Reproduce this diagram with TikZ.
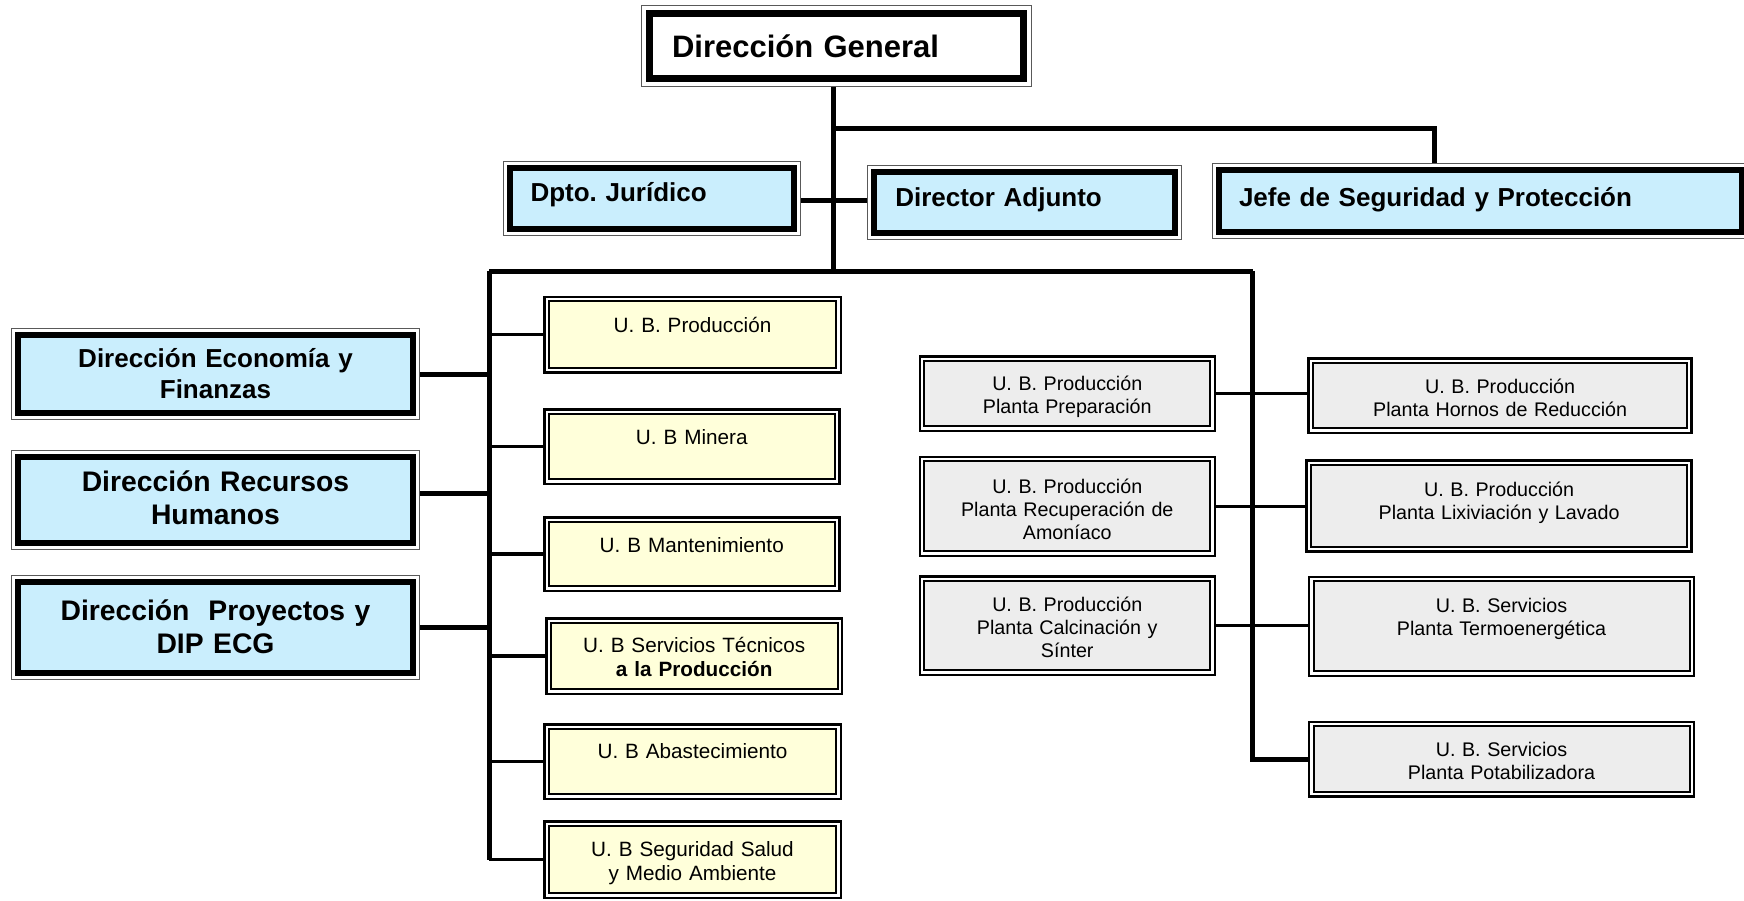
\documentclass[tikz,border=0pt]{standalone}
\usepackage{fontspec}
\setmainfont{Liberation Sans}
\usetikzlibrary{backgrounds}
\definecolor{bluefill}{RGB}{202,238,253}
\definecolor{yelfill}{RGB}{255,255,218}
\definecolor{greyfill}{RGB}{237,237,237}
\tikzset{
  base/.style={shape=rectangle, outer sep=0pt, inner ysep=0pt, inner xsep=5pt, align=center},
  sz/.style n args={4}{minimum width=#1pt, minimum height=#2pt, text width=#3pt, text depth=#4pt},
  dgbox/.style={base, preaction={draw=black!65, line width=16.2pt},
    preaction={draw=white, line width=13.8pt}, draw=black, line width=7pt, fill=white,
    font=\frenchspacing\bfseries\fontsize{31}{36}\selectfont, text height=24.8pt, align=left},
  bluebox/.style={base, preaction={draw=black!65, line width=14.2pt},
    preaction={draw=white, line width=11.4pt}, draw=black, line width=6pt, fill=bluefill,
    font=\frenchspacing\bfseries\fontsize{26}{31}\selectfont, text height=20.8pt},
  bigblue/.style={bluebox, font=\frenchspacing\bfseries\fontsize{28.3}{33}\selectfont, text height=22.6pt},
  yelbox/.style={base, preaction={draw=black, line width=11.5pt},
    preaction={draw=white, line width=6.5pt}, draw=black, line width=2pt, fill=yelfill,
    font=\frenchspacing\fontsize{20.7}{24}\selectfont, text height=16.6pt},
  greybox/.style={base, preaction={draw=black, line width=11.5pt},
    preaction={draw=white, line width=6.5pt}, draw=black, line width=2pt, fill=greyfill,
    font=\frenchspacing\fontsize{19.7}{23}\selectfont, text height=15.8pt},
  conn/.style={line width=5pt},
  subconn/.style={line width=3.3pt},
}
\begin{document}
\frenchspacing
\begin{tikzpicture}[x=1pt,y=-1pt]
\useasboundingbox (0,0) rectangle (1744,901);
\clip (0,0) rectangle (1744,901);
% top level
\node[dgbox, sz={374.8}{65.8}{329}{2.6}, inner xsep=22.9pt] (dg) at (836.5,46) {Dirección General};
\node[bluebox, sz={283.8}{60.8}{243}{14.4}, inner xsep=20.4pt, align=left] (jur) at (652,198.5) {Dpto. Jurídico};
\node[bluebox, sz={300.8}{60.8}{258.4}{13.4}, inner xsep=21.2pt, align=left] (adj) at (1024.5,202.5) {Director Adjunto};
\node[bluebox, sz={522.4}{61.8}{482.6}{10.2}, inner xsep=19.9pt, align=left] (jefe) at (1480.3,201) {Jefe de Seguridad y Protección};
% left directions
\node[bluebox, sz={394.8}{77.8}{384}{33.2}] (eco) at (215.5,374) {Dirección Economía y\\Finanzas};
\node[bigblue, sz={394.8}{85.8}{384}{38.8}] (rrhh) at (215.5,500) {Dirección Recursos\\Humanos};
\node[bigblue, sz={394.8}{90.8}{384}{37}] (proy) at (215.5,627.5) {Dirección\ \ Proyectos y\\DIP ECG};
% yellow units
\node[yelbox, sz={287.5}{66.5}{277}{21.1}] (prod) at (692.5,334.5) {U. B. Producción};
\node[yelbox, sz={286}{65.3}{276}{20.7}] (min) at (691.75,446.6) {U. B Minera};
\node[yelbox, sz={286}{64.5}{276}{19.5}] (mant) at (691.75,554) {U. B Mantenimiento};
\node[yelbox, sz={286.8}{66.5}{276}{23.5}] (serv) at (694.2,656) {U. B Servicios Técnicos\\\textbf{a la Producción}};
\node[yelbox, sz={287.5}{65.5}{277}{23.3}] (abas) at (692.5,761.5) {U. B Abastecimiento};
\node[yelbox, sz={287.5}{67.5}{277}{23.5}] (seg) at (692.5,859.5) {U. B Seguridad Salud\\y Medio Ambiente};
% grey plants, left column
\node[greybox, sz={286}{65.5}{276}{20.85}] (prep) at (1067.25,393.5) {U. B. Producción\\Planta Preparación};
\node[greybox, sz={286}{90}{276}{41.35}] (recu) at (1067.25,506.25) {U. B. Producción\\Planta Recuperación de\\Amoníaco};
\node[greybox, sz={286}{89.5}{276}{42.85}] (calc) at (1067.25,625.5) {U. B. Producción\\Planta Calcinación y\\Sínter};
% grey plants, right column
\node[greybox, sz={373.8}{65.5}{364}{19.65}] (horn) at (1500.15,395.5) {U. B. Producción\\Planta Hornos de Reducción};
\node[greybox, sz={375.8}{82}{366}{33.95}] (lix) at (1499.15,505.75) {U. B. Producción\\Planta Lixiviación y Lavado};
\node[greybox, sz={375.5}{90}{366}{43.15}] (term) at (1501.5,626.25) {U. B. Servicios\\Planta Termoenergética};
\node[greybox, sz={375.5}{65.5}{366}{21.05}] (pot) at (1501.5,759) {U. B. Servicios\\Planta Potabilizadora};
% junction points
\coordinate (t) at (833,271);
\coordinate (b1) at (833,129);
\coordinate (jx) at (1434.5,129);
\coordinate (busL) at (489,271);
\coordinate (busR) at (1252.5,271);
\begin{pgfonlayer}{background}
\draw[conn] (dg.south -| t) -- (t);
\draw[conn] (b1) -- (jx) -- (jx |- jefe.north);
\draw[conn] ([yshift=-2.5pt]jur.east) -- ([yshift=-2.5pt]jur.east -| adj.west);
\draw[conn] (busL) -- (busR);
\draw[conn] (busL) -- (busL |- seg.west);
\draw[conn] (busR) -- (busR |- pot.west) -- (pot.west);
\draw[conn] (eco.east) -- (eco.east -| busL);
\draw[conn] ([yshift=7pt]rrhh.east) -- ([yshift=7pt]rrhh.east -| busL);
\draw[conn] (proy.east) -- (proy.east -| busL);
\foreach \n in {prod,min,mant,serv,abas,seg}
  \draw[subconn] (busL |- \n.west) -- (\n.west);
\draw[subconn] (prep.east) -- (prep.east -| horn.west);
\draw[subconn] (recu.east) -- (recu.east -| lix.west);
\draw[subconn] (calc.east) -- (calc.east -| term.west);
\end{pgfonlayer}
\end{tikzpicture}
\end{document}
